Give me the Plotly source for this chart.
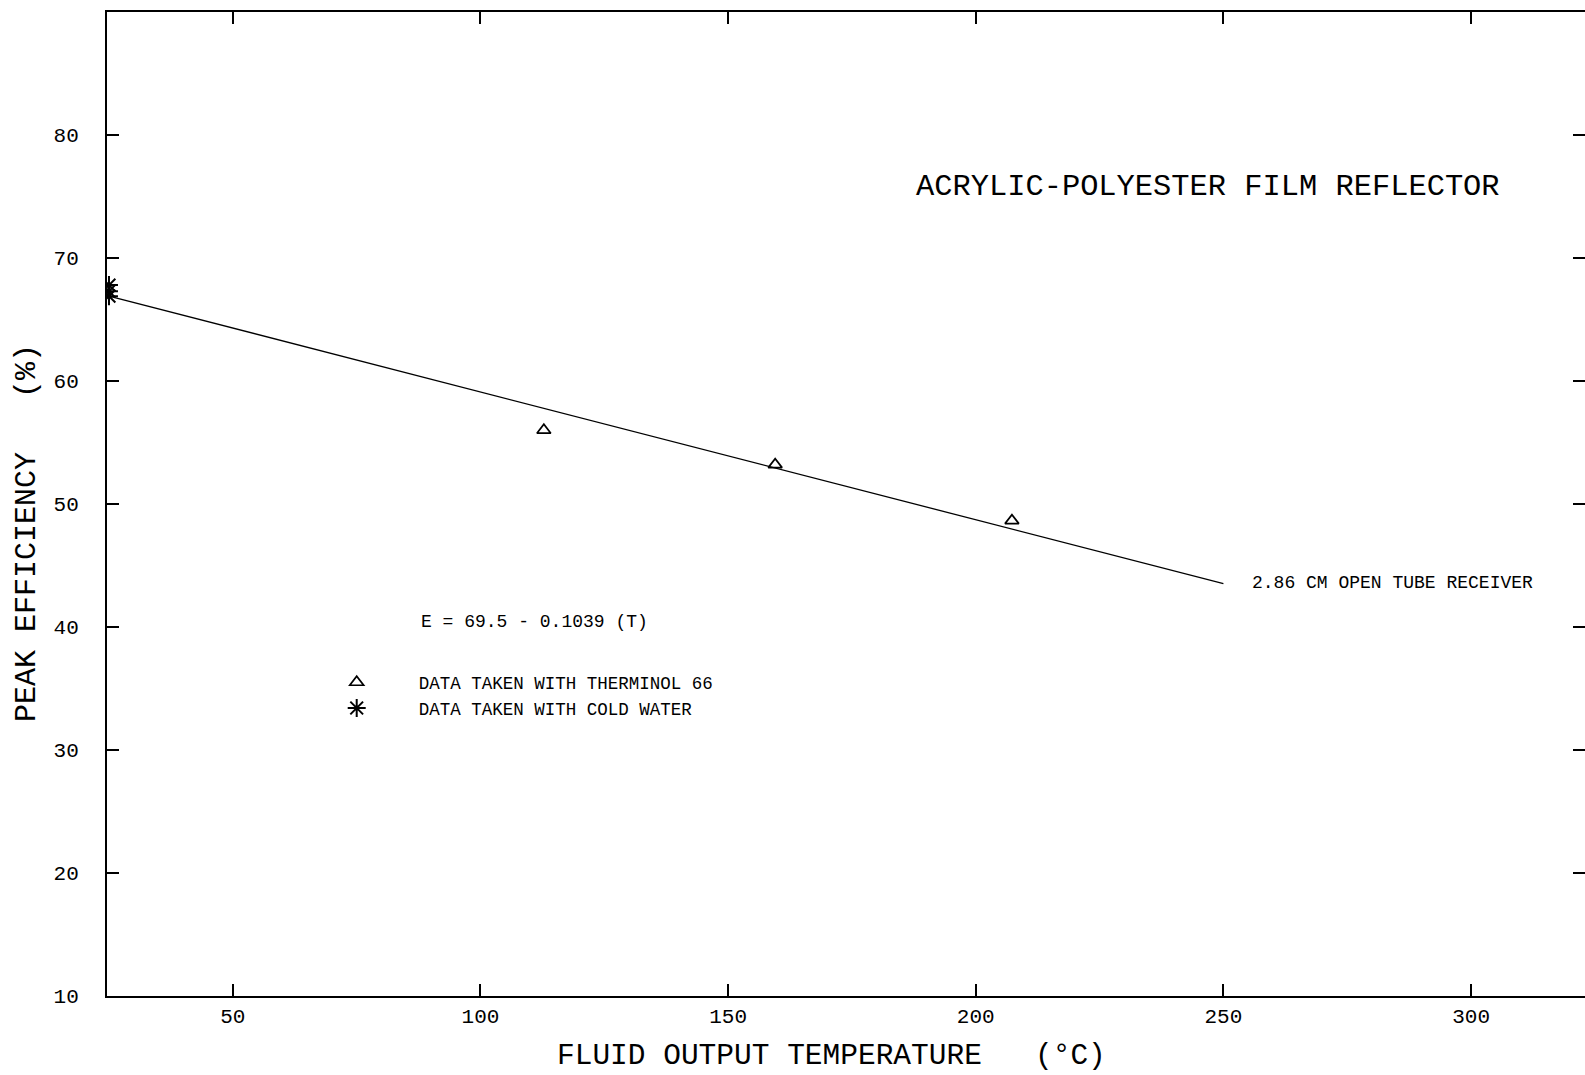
import plotly.graph_objects as go

# Data
therminol_T = [112.8, 159.5, 207.3]
therminol_E = [56.0, 53.2, 48.65]
water_T = [25.0, 25.0, 25.0]
water_E = [67.8, 67.3, 66.9]
fit_T = [25.0, 250.0]
fit_intercept = 69.5
fit_slope = -0.1039
fit_E = [fit_intercept + fit_slope * t for t in fit_T]

x_ticks = [50, 100, 150, 200, 250, 300]
y_ticks = [10, 20, 30, 40, 50, 60, 70, 80]

FONT = "Liberation Mono, DejaVu Sans Mono, monospace"

fig = go.Figure()
fig.add_trace(go.Scatter(x=fit_T, y=fit_E, mode="lines",
                         line=dict(color="black", width=1.3), showlegend=False))
fig.add_trace(go.Scatter(x=therminol_T, y=therminol_E, mode="markers",
                         name="DATA TAKEN WITH THERMINOL 66",
                         marker=dict(symbol="triangle-up-open", size=12, color="black",
                                     line=dict(width=1.7, color="black"))))
fig.add_trace(go.Scatter(x=water_T, y=water_E, mode="markers",
                         name="DATA TAKEN WITH COLD WATER",
                         marker=dict(symbol="asterisk-open", size=15, color="black",
                                     line=dict(width=2, color="black"))))

fig.add_annotation(x=246.9, y=75.8, text="ACRYLIC-POLYESTER FILM REFLECTOR",
                   showarrow=False, xanchor="center", yanchor="middle",
                   font=dict(family=FONT, size=30.4, color="black"))
fig.add_annotation(x=87.6, y=40.4, text="E = 69.5 - 0.1039 (T)",
                   showarrow=False, xanchor="left", yanchor="middle",
                   font=dict(family=FONT, size=18, color="black"))
fig.add_annotation(x=255.4, y=43.6, text="2.86 CM OPEN TUBE RECEIVER",
                   showarrow=False, xanchor="left", yanchor="middle",
                   font=dict(family=FONT, size=18, color="black"))

# axis titles
fig.add_annotation(xref="paper", yref="paper", x=0.4899, y=-0.0793,
                   text="FLUID OUTPUT TEMPERATURE   (°C)", showarrow=False,
                   xanchor="center", yanchor="bottom", borderpad=0,
                   font=dict(family=FONT, size=29.5, color="black"))
fig.add_annotation(xref="paper", yref="paper", x=-0.0541, y=0.4705,
                   text="PEAK EFFICIENCY   (%)", showarrow=False, textangle=-90,
                   xanchor="center", yanchor="middle",
                   font=dict(family=FONT, size=30, color="black"))

fig.update_layout(
    width=1585, height=1075,
    margin=dict(l=107, r=0, t=12, b=79, autoexpand=False),
    paper_bgcolor="white", plot_bgcolor="white",
    font=dict(family=FONT, color="black"),
    showlegend=True,
    legend=dict(x=0.127, y=0.337, xanchor="left", yanchor="top",
                bgcolor="rgba(0,0,0,0)", borderwidth=0,
                font=dict(family=FONT, size=17.5, color="black"),
                itemwidth=114),
    xaxis=dict(range=[24.6, 323], tickvals=x_ticks, ticks="inside", ticklen=12,
               tickwidth=1.5, tickcolor="black", showline=True, linecolor="black",
               linewidth=2, mirror="ticks", showgrid=False, zeroline=False,
               tickfont=dict(family=FONT, size=21, color="black"),
               ticklabelstandoff=0),
    yaxis=dict(range=[10, 90], tickvals=y_ticks, ticks="inside", ticklen=12,
               tickwidth=1.5, tickcolor="black", showline=True, linecolor="black",
               linewidth=2, mirror="ticks", showgrid=False, zeroline=False,
               tickfont=dict(family=FONT, size=21, color="black"),
               ticklabelstandoff=22),
)

fig.write_html("out.html")
